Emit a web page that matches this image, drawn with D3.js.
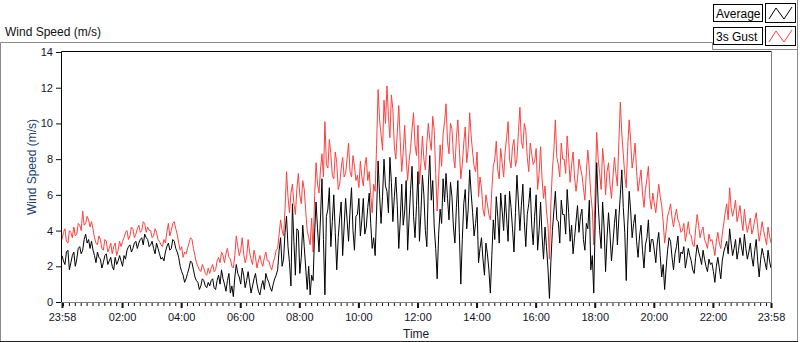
<!DOCTYPE html>
<html>
<head>
<meta charset="utf-8">
<script src="https://cdn.jsdelivr.net/npm/d3@7"></script>
<style>
  body { margin: 0; background: #fff; }
  text { font-family: "Liberation Sans", Arial, sans-serif; }
</style>
</head>
<body>
<svg id="chart"></svg>
<script>
// one sample every 3 minutes, from 23:58 to 23:58 next day
const stepMinutes = 3;

const gust = [
  3.5, 3.9, 4.1, 3.4, 3.3, 4.0, 3.9, 3.6, 4.2, 3.7, 3.8, 4.4, 4.3, 4.0, 5.1, 4.3, 4.4, 4.8, 4.6, 4.2,
  4.5, 4.1, 3.6, 3.3, 3.2, 3.7, 3.5, 3.0, 2.9, 3.5, 3.4, 2.8, 3.0, 3.3, 2.7, 3.1, 3.3, 2.6, 2.9, 3.4,
  3.1, 3.4, 3.6, 3.9, 4.0, 3.5, 3.7, 4.2, 4.1, 3.6, 3.8, 4.1, 4.3, 3.9, 4.0, 4.5, 4.4, 3.9, 4.2, 4.0,
  4.0, 3.6, 3.7, 4.1, 3.9, 3.5, 3.4, 3.2, 3.1, 3.5, 3.3, 3.9, 4.4, 3.7, 4.0, 4.4, 4.5, 4.1, 3.8, 3.3,
  2.9, 3.1, 2.5, 2.8, 2.7, 3.0, 3.3, 3.6, 3.5, 3.0, 2.6, 2.2, 2.0, 1.8, 1.7, 2.1, 1.9, 1.6, 1.5, 1.9,
  1.6, 1.9, 2.1, 1.7, 1.8, 2.3, 2.5, 2.2, 2.8, 2.6, 2.2, 2.7, 3.0, 2.5, 2.4, 2.0, 1.9, 2.6, 3.7, 3.1,
  2.6, 2.9, 3.6, 2.7, 2.2, 2.5, 3.5, 2.8, 2.4, 2.1, 2.9, 2.5, 1.9, 2.3, 2.6, 2.2, 2.0, 2.5, 2.8, 2.3,
  2.3, 2.0, 1.8, 2.2, 2.5, 2.9, 3.0, 3.8, 4.6, 4.0, 3.7, 5.2, 7.3, 5.9, 5.0, 6.1, 6.6, 5.5, 4.9, 6.3,
  7.2, 6.0, 5.5, 6.8, 6.3, 5.1, 4.0, 3.6, 3.2, 4.7, 2.8, 5.9, 7.8, 6.6, 6.1, 7.4, 8.3, 7.0, 10.1, 7.7,
  7.5, 9.1, 8.3, 7.1, 6.9, 8.4, 7.8, 6.3, 6.6, 7.5, 8.1, 7.0, 7.2, 8.0, 8.9, 7.3, 7.0, 8.2, 7.6, 6.8,
  7.1, 6.4, 7.9, 7.0, 6.5, 7.6, 8.1, 6.8, 7.3, 6.0, 5.0, 6.6, 6.2, 8.8, 11.9, 10.2, 9.4, 8.5, 11.3, 10.0,
  12.1, 10.4, 9.2, 11.6, 10.8, 8.7, 8.0, 9.5, 11.0, 9.0, 7.3, 8.4, 9.9, 8.1, 6.8, 7.9, 8.6, 9.7, 10.6, 8.8,
  8.2, 9.9, 6.6, 7.8, 9.3, 8.0, 7.4, 8.9, 10.0, 9.1, 8.5, 10.4, 9.6, 7.2, 5.1, 6.9, 8.8, 7.6, 9.4, 10.1,
  11.1, 9.0, 8.3, 10.0, 9.7, 8.2, 7.5, 9.2, 10.2, 8.6, 6.9, 7.7, 8.9, 9.8, 7.8, 8.6, 10.6, 9.3, 8.4, 7.6,
  7.3, 8.4, 5.9, 7.0, 6.4, 5.2, 4.8, 6.0, 5.5, 4.9, 4.6, 6.3, 7.6, 8.0, 9.0, 7.4, 6.9, 8.6, 7.8, 7.0,
  8.4, 9.2, 10.1, 8.0, 7.5, 8.7, 9.1, 7.6, 8.0, 9.5, 10.9, 9.0, 8.6, 10.0, 9.6, 8.1, 7.3, 8.9, 8.3, 7.7,
  7.9, 8.6, 6.3, 7.2, 8.7, 6.9, 5.8, 6.5, 5.1, 4.3, 2.4, 5.6, 7.4, 8.5, 10.2, 8.1, 7.7, 7.0, 8.9, 8.0,
  8.0, 7.2, 9.3, 8.1, 6.7, 7.7, 8.4, 7.0, 6.2, 6.9, 8.0, 7.5, 7.1, 6.4, 5.7, 7.3, 8.5, 7.4, 6.0, 5.2,
  3.2, 6.4, 9.5, 8.0, 7.2, 6.3, 8.6, 7.7, 6.0, 7.3, 7.8, 6.6, 5.8, 7.0, 8.1, 7.2, 6.5, 9.0, 11.2, 9.4,
  8.3, 7.1, 6.4, 8.7, 10.2, 9.0, 7.5, 8.1, 8.9, 7.3, 6.2, 6.8, 7.4, 6.1, 5.3, 6.3, 6.9, 7.6, 5.8, 5.2,
  6.1, 5.5, 5.0, 5.8, 6.6, 5.9, 5.4, 4.5, 3.3, 4.0, 4.8, 5.1, 5.5, 4.7, 4.2, 4.8, 5.2, 4.6, 4.4, 3.9,
  4.0, 4.4, 3.4, 3.9, 4.5, 3.8, 3.7, 3.2, 3.1, 4.1, 4.9, 4.3, 3.6, 4.0, 4.2, 3.5, 3.3, 3.0, 3.8, 3.4,
  3.5, 3.1, 2.6, 3.4, 3.9, 3.3, 3.0, 3.8, 4.4, 5.0, 5.5, 4.6, 6.4, 5.3, 4.8, 5.2, 5.7, 4.5, 4.9, 5.4,
  4.6, 4.0, 5.2, 4.4, 3.9, 4.3, 4.7, 3.8, 4.1, 4.6, 5.0, 4.2, 3.4, 3.9, 4.5, 4.0, 3.6, 3.2, 4.2, 3.7, 3.3
];

const average = [
  2.6, 2.3, 2.1, 2.8, 2.9, 1.8, 2.2, 2.6, 2.8, 2.0, 2.4, 3.0, 3.1, 2.7, 2.9, 3.5, 3.8, 3.3, 3.5, 3.0,
  3.4, 2.9, 2.6, 2.2, 2.8, 2.5, 2.4, 1.9, 2.2, 2.6, 2.7, 2.1, 2.3, 2.5, 2.0, 1.8, 2.5, 2.1, 2.3, 2.6,
  2.3, 2.0, 2.6, 2.4, 2.9, 3.1, 3.2, 2.8, 3.0, 3.3, 3.4, 3.0, 3.3, 3.5, 3.6, 3.2, 3.8, 3.6, 3.5, 3.1,
  3.2, 3.4, 3.0, 2.7, 3.3, 3.0, 2.7, 2.4, 2.5, 2.3, 2.8, 3.1, 3.3, 2.9, 3.0, 3.5, 3.4, 3.0, 2.8, 2.5,
  2.0, 1.7, 1.5, 1.1, 1.3, 1.6, 1.9, 2.3, 2.2, 1.8, 1.4, 1.2, 1.1, 0.7, 0.9, 1.3, 1.2, 0.9, 0.8, 1.1,
  0.9, 1.2, 1.3, 0.8, 0.7, 1.2, 1.5, 1.0, 1.8, 1.3, 1.0, 0.6, 1.2, 1.6, 0.5, 0.9, 0.3, 1.4, 2.1, 1.6,
  1.4, 1.0, 1.9, 1.5, 0.8, 1.2, 1.7, 1.1, 0.5, 0.9, 1.3, 1.6, 1.0, 0.6, 0.4, 0.9, 1.2, 0.7, 1.6, 1.3,
  1.1, 0.8, 0.6, 1.0, 1.3, 1.5, 1.8, 2.9, 3.6, 2.0, 2.4, 3.9, 4.8, 3.1, 2.2, 0.9, 5.5, 3.4, 1.5, 4.1,
  4.0, 1.6, 2.5, 4.3, 3.1, 1.9, 0.7, 2.0, 0.4, 1.5, 1.2, 3.8, 5.6, 4.1, 2.8, 4.7, 6.9, 3.5, 0.4, 4.8,
  5.2, 6.4, 3.1, 4.5, 6.0, 3.9, 1.8, 3.6, 4.7, 5.6, 2.6, 4.2, 5.8, 4.6, 3.4, 5.1, 6.4, 4.0, 2.9, 4.8,
  4.9, 5.8, 3.7, 4.6, 5.8, 3.8, 4.2, 5.3, 6.1, 4.4, 3.0, 3.6, 2.6, 5.1, 7.9, 6.0, 4.4, 5.9, 8.0, 6.5,
  6.2, 5.0, 8.1, 6.7, 4.5, 5.9, 7.0, 5.4, 3.0, 4.6, 6.6, 4.3, 5.1, 6.8, 2.9, 4.7, 6.3, 7.6, 4.8, 3.6,
  5.4, 7.3, 3.4, 5.0, 7.1, 6.0, 4.0, 3.1, 6.5, 8.2, 5.7, 6.8, 4.2, 3.0, 1.3, 3.8, 5.2, 4.4, 6.9, 5.6,
  7.2, 5.8, 4.6, 6.7, 5.9, 4.2, 3.3, 5.3, 6.8, 3.9, 1.0, 3.5, 5.5, 6.3, 4.1, 5.2, 7.4, 6.1, 5.0, 3.7,
  4.4, 5.3, 2.2, 3.0, 3.6, 2.4, 1.5, 3.3, 2.7, 1.8, 0.5, 2.6, 4.6, 3.5, 5.9, 4.8, 3.3, 6.1, 5.1, 4.0,
  6.0, 4.7, 3.4, 6.2, 5.3, 4.1, 2.8, 5.0, 7.1, 5.6, 4.0, 5.4, 6.6, 4.5, 3.1, 4.9, 5.5, 6.4, 4.3, 3.2,
  4.8, 6.0, 2.9, 4.0, 5.6, 3.7, 2.4, 4.2, 3.1, 1.9, 0.2, 2.3, 4.0, 5.1, 6.2, 4.6, 4.5, 3.3, 5.7, 4.9,
  4.9, 3.8, 6.3, 5.0, 3.4, 4.3, 2.7, 3.6, 4.5, 5.4, 3.9, 4.8, 5.2, 3.5, 2.9, 4.4, 4.1, 5.7, 1.8, 2.6,
  0.5, 4.6, 7.8, 5.5, 4.0, 3.0, 5.6, 4.2, 1.7, 3.6, 5.0, 3.8, 2.3, 3.3, 4.4, 5.2, 3.2, 4.7, 6.0, 7.4,
  5.3, 3.9, 1.2, 4.3, 6.2, 5.1, 3.6, 4.4, 4.9, 3.4, 2.5, 3.7, 4.3, 2.9, 1.9, 3.2, 3.6, 4.6, 2.8, 3.5,
  3.5, 2.9, 2.2, 3.3, 3.9, 2.6, 1.4, 2.1, 0.7, 1.9, 2.9, 3.6, 3.4, 2.5, 1.8, 2.7, 3.1, 3.7, 2.2, 2.8,
  2.7, 3.1, 1.9, 2.4, 3.0, 2.6, 2.3, 1.8, 1.6, 2.5, 3.2, 2.8, 2.5, 2.1, 2.9, 2.4, 2.0, 1.7, 2.4, 2.1,
  2.2, 1.7, 1.1, 2.0, 2.5, 1.9, 1.3, 2.3, 2.8, 3.1, 3.4, 2.7, 4.1, 3.3, 2.6, 3.0, 3.5, 2.4, 2.9, 3.6,
  3.1, 2.6, 3.8, 3.0, 2.4, 2.8, 3.3, 2.5, 2.0, 2.9, 3.5, 2.3, 1.4, 2.4, 3.0, 2.6, 2.2, 1.8, 2.9, 2.3, 1.9
];

const timeLabels = ['23:58', '02:00', '04:00', '06:00', '08:00', '10:00', '12:00',
  '14:00', '16:00', '18:00', '20:00', '22:00', '23:58'];
const yTicks = [0, 2, 4, 6, 8, 10, 12, 14];

const width = 800;
const height = 342;
const plot = { left: 62, right: 771, top: 52, bottom: 302 };

const svg = d3.select('#chart')
  .attr('width', width)
  .attr('height', height);

// times
const start = new Date(2024, 0, 1, 23, 58);
const end = new Date(2024, 0, 2, 23, 58);
const tickTimes = timeLabels.map((s, i) => {
  const [h, m] = s.split(':').map(Number);
  return i === 0 ? start : new Date(2024, 0, 2, h, m);
});
const timeAt = i => new Date(start.getTime() + i * stepMinutes * 60000);

const x = d3.scaleTime().domain([start, end]).range([plot.left, plot.right]);
const y = d3.scaleLinear().domain([0, 14]).range([plot.bottom, plot.top]);

// outer frame
svg.append('path')
  .attr('d', 'M0.5,341 V42.5 H712.5 V49.5 H797.5')
  .attr('fill', 'none').attr('stroke', '#8a8a8a');
svg.append('line')
  .attr('x1', 797.5).attr('x2', 797.5).attr('y1', 0).attr('y2', 342)
  .attr('stroke', '#8a8a8a');
svg.append('line')
  .attr('x1', 0).attr('x2', 798).attr('y1', 341.5).attr('y2', 341.5)
  .attr('stroke', '#222');

svg.append('text')
  .attr('x', 5).attr('y', 36)
  .attr('font-size', 12).attr('fill', '#111')
  .text('Wind Speed (m/s)');

// plot lines
const line = d3.line()
  .x((d, i) => x(timeAt(i)))
  .y(d => y(d));

svg.append('path')
  .datum(gust)
  .attr('d', line)
  .attr('fill', 'none')
  .attr('stroke', '#ff4040')
  .attr('stroke-width', 1);

svg.append('path')
  .datum(average)
  .attr('d', line)
  .attr('fill', 'none')
  .attr('stroke', '#000')
  .attr('stroke-width', 1);

// plot frame: dark top/left, grey bottom/right
svg.append('path')
  .attr('d', `M${plot.left - 0.5},${plot.bottom} V${plot.top - 0.5} H${plot.right + 1}`)
  .attr('fill', 'none').attr('stroke', '#000');
svg.append('path')
  .attr('d', `M${plot.left - 1},${plot.bottom + 0.5} H${plot.right + 0.5} V${plot.top - 1}`)
  .attr('fill', 'none').attr('stroke', '#808080');

// x axis
const xMinor = d3.axisBottom(x)
  .tickValues(d3.timeMinute.every(12).range(start, end))
  .tickSize(3).tickFormat('');
svg.append('g')
  .attr('transform', `translate(0,${plot.bottom + 1})`)
  .call(xMinor)
  .call(g => g.select('.domain').remove())
  .call(g => g.selectAll('line').attr('stroke', '#111'));

const xAxis = d3.axisBottom(x)
  .tickValues(tickTimes)
  .tickSize(5)
  .tickPadding(5)
  .tickFormat(d3.timeFormat('%H:%M'));
svg.append('g')
  .attr('transform', `translate(0,${plot.bottom + 1})`)
  .call(xAxis)
  .call(g => g.select('.domain').remove())
  .call(g => g.selectAll('line').attr('stroke', '#111').attr('stroke-width', 2))
  .call(g => g.selectAll('text')
    .attr('font-size', 11)
    .attr('font-family', '"Liberation Sans", Arial, sans-serif')
    .attr('fill', '#141428'));

svg.append('text')
  .attr('x', 403).attr('y', 338)
  .attr('font-size', 12).attr('fill', '#1a1a2a')
  .text('Time');

// y axis
const yAxis = d3.axisLeft(y)
  .tickValues(yTicks)
  .tickSize(5)
  .tickPadding(3);
svg.append('g')
  .attr('transform', `translate(${plot.left - 1},0)`)
  .call(yAxis)
  .call(g => g.select('.domain').remove())
  .call(g => g.selectAll('line').attr('stroke', '#111'))
  .call(g => g.selectAll('text')
    .attr('font-size', 11)
    .attr('font-family', '"Liberation Sans", Arial, sans-serif')
    .attr('fill', '#141428'));

svg.append('text')
  .attr('transform', `translate(36,${(plot.top + plot.bottom) / 2 - 10}) rotate(-90)`)
  .attr('text-anchor', 'middle')
  .attr('font-size', 12).attr('fill', '#23406e')
  .text('Wind Speed (m/s)');

// legend
const legendItems = [
  { name: 'Average', color: '#000', y: 4 },
  { name: '3s Gust', color: '#ff4040', y: 27 }
];
const legend = svg.append('g');
legendItems.forEach(d => {
  legend.append('rect')
    .attr('x', 713.5).attr('y', d.y + 0.5)
    .attr('width', 49).attr('height', 17)
    .attr('fill', '#fff').attr('stroke', '#000');
  legend.append('text')
    .attr('x', 716).attr('y', d.y + 14)
    .attr('font-size', 12).attr('fill', '#000')
    .text(d.name);
  legend.append('rect')
    .attr('x', 765.5).attr('y', d.y - 0.5)
    .attr('width', 30).attr('height', 19)
    .attr('fill', '#fff').attr('stroke', '#000');
  legend.append('path')
    .attr('d', `M769,${d.y + 15} L776,${d.y + 4} L784,${d.y + 15} L792,${d.y + 3}`)
    .attr('fill', 'none').attr('stroke', d.color);
});
</script>
</body>
</html>
